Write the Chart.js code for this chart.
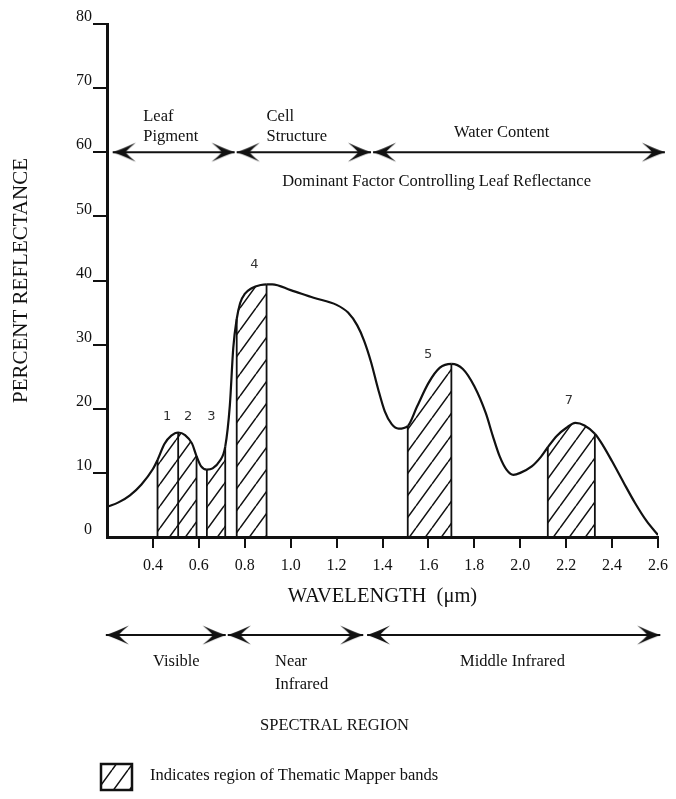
<!DOCTYPE html>
<html>
<head>
<meta charset="utf-8">
<script src="https://cdn.jsdelivr.net/npm/chart.js@4.4.0/dist/chart.umd.min.js"></script>
<style>
  html, body { margin: 0; padding: 0; background: #fff; }
</style>
</head>
<body>
<canvas id="reflectance" width="676" height="799"></canvas>
<script>
// reflectance curve of green vegetation
var wavelength = [0.20, 0.25, 0.30, 0.35, 0.40, 0.42, 0.45, 0.48, 0.51, 0.54, 0.57, 0.59, 0.61, 0.635, 0.66, 0.69, 0.715,
    0.735, 0.75, 0.765, 0.78, 0.80, 0.83, 0.87, 0.895, 0.92, 1.00, 1.10, 1.20, 1.25, 1.29, 1.32, 1.35, 1.38, 1.41, 1.44,
    1.47, 1.51, 1.55, 1.60, 1.65, 1.70, 1.75, 1.80, 1.85, 1.88, 1.91, 1.94, 1.97, 2.00, 2.05, 2.09, 2.12, 2.16, 2.20,
    2.24, 2.28, 2.325, 2.36, 2.40, 2.45, 2.50, 2.55, 2.60];
var reflectance = [4.7, 5.4, 6.5, 8.2, 10.6, 12.0, 14.5, 15.8, 16.3, 15.9, 14.6, 12.6, 11.0, 10.5, 10.7, 11.8, 14.1,
    20.5, 29.5, 34.0, 36.5, 37.9, 38.8, 39.3, 39.4, 39.4, 38.5, 37.3, 36.2, 35.0, 33.0, 30.6, 27.3, 23.2, 19.6, 17.6,
    16.9, 17.3, 20.3, 24.0, 26.4, 27.0, 26.2, 23.5, 19.3, 15.8, 12.6, 10.5, 9.7, 10.0, 11.0, 12.5, 14.0, 15.8, 17.0,
    17.8, 17.4, 16.1, 14.3, 11.8, 8.5, 5.3, 2.5, 0.3];

// Thematic Mapper bands, start and end wavelength
var tm_bands = [[0.42, 0.51], [0.51, 0.59], [0.635, 0.715], [0.765, 0.895], [1.51, 1.70], [2.12, 2.325]];
var tm_band_names = ['1', '2', '3', '4', '5', '7'];

// dominant factor and spectral region spans
var factor_spans = [[0.225, 0.756], [0.765, 1.35], [1.359, 2.63]];
var region_spans = [[0.195, 0.717], [0.726, 1.316], [1.333, 2.61]];

var x_ticks = [0.4, 0.6, 0.8, 1.0, 1.2, 1.4, 1.6, 1.8, 2.0, 2.2, 2.4, 2.6];
var y_ticks = [0, 10, 20, 30, 40, 50, 60, 70, 80];

var serif = "'Liberation Serif', 'Times New Roman', serif";
var ink = '#111';

Chart.defaults.font.family = serif;
Chart.defaults.color = ink;

var canvas = document.getElementById('reflectance');
var ctx = canvas.getContext('2d');

function make_hatch(){
    var w = 16, h = 22;
    var c = document.createElement('canvas');
    c.width = w; c.height = h;
    var g = c.getContext('2d');
    g.strokeStyle = '#111';
    g.lineWidth = 1.5;
    g.beginPath();
    for(var k = -1; k <= 1; k++){
        g.moveTo(k * w, h);
        g.lineTo(k * w + w, 0);
    }
    g.stroke();
    return ctx.createPattern(c, 'repeat');
}

function make_arrow_head(){
    // tip sits at the centre of the image so rotation keeps it on the point
    var c = document.createElement('canvas');
    c.width = 50; c.height = 22;
    var g = c.getContext('2d');
    g.translate(25, 11);
    g.fillStyle = ink;
    g.beginPath();
    g.moveTo(0, 0);
    g.quadraticCurveTo(-9, -3, -23, -9.5);
    g.quadraticCurveTo(-15, -3, -13, 0);
    g.quadraticCurveTo(-15, 3, -23, 9.5);
    g.quadraticCurveTo(-9, 3, 0, 0);
    g.fill();
    return c;
}

var hatch = make_hatch();
var arrow_head = make_arrow_head();

function in_band(x0, x1){
    return tm_bands.some(function(b){ return x0 >= b[0] - 1e-9 && x1 <= b[1] + 1e-9; });
}

function reflectance_at(w){
    for(var i = 0; i < wavelength.length; i++){
        if(Math.abs(wavelength[i] - w) < 1e-9) return reflectance[i];
    }
    return 0;
}

var curve = wavelength.map(function(w, i){ return {x: w, y: reflectance[i]}; });

var datasets = [{
    label: 'Reflectance',
    data: curve,
    borderColor: ink,
    borderWidth: 2.2,
    pointRadius: 0,
    tension: 0.4,
    cubicInterpolationMode: 'monotone',
    fill: 'origin',
    backgroundColor: 'rgba(0,0,0,0)',
    segment: {
        backgroundColor: function(c){
            return in_band(c.p0.parsed.x, c.p1.parsed.x) ? hatch : 'rgba(0,0,0,0)';
        }
    }
}];

// vertical edges of the band areas
var edges = [];
tm_bands.forEach(function(b){
    if(edges.indexOf(b[0]) < 0) edges.push(b[0]);
    if(edges.indexOf(b[1]) < 0) edges.push(b[1]);
});
edges.forEach(function(e){
    datasets.push({
        data: [{x: e, y: 0}, {x: e, y: reflectance_at(e)}],
        borderColor: ink,
        borderWidth: 1.8,
        pointRadius: 0,
        fill: false
    });
});

function arrow(span, y){
    return {
        data: [{x: span[0], y: y}, {x: span[1], y: y}],
        borderColor: ink,
        borderWidth: 2,
        fill: false,
        clip: false,
        pointStyle: arrow_head,
        pointRotation: [180, 0],
        pointRadius: 120,
        pointHoverRadius: 120,
        pointBorderWidth: 0
    };
}
factor_spans.forEach(function(s){ datasets.push(arrow(s, 60)); });
region_spans.forEach(function(s){ datasets.push(arrow(s, -15.3)); });

var notes = [
    ['Leaf', 0.358, 65.5, 'left'],
    ['Pigment', 0.358, 62.4, 'left'],
    ['Cell', 0.895, 65.5, 'left'],
    ['Structure', 0.895, 62.4, 'left'],
    ['Water Content', 1.919, 63.0, 'center'],
    ['Dominant Factor Controlling Leaf Reflectance', 0.963, 55.4, 'left'],
    ['Visible', 0.502, -19.5, 'center'],
    ['Near', 0.932, -19.5, 'left'],
    ['Infrared', 0.932, -23.1, 'left'],
    ['Middle Infrared', 1.966, -19.5, 'center'],
    ['SPECTRAL REGION', 1.191, -29.5, 'center']
];
var band_label_pos = [[0.4615, 18.7], [0.553, 18.7], [0.655, 18.7], [0.842, 42.4], [1.599, 28.4], [2.212, 21.2]];

var notes_plugin = {
    id: 'notes',
    afterDraw: function(chart){
        var c = chart.ctx, xs = chart.scales.x, ys = chart.scales.y;
        c.save();
        c.fillStyle = ink;
        c.textBaseline = 'middle';
        c.font = '16.5px ' + serif;
        notes.forEach(function(n){
            c.textAlign = n[3];
            c.fillText(n[0], xs.getPixelForValue(n[1]), ys.getPixelForValue(n[2]));
        });
        c.font = '13px "DejaVu Sans", sans-serif';
        c.fillStyle = '#333';
        c.textAlign = 'center';
        tm_band_names.forEach(function(name, i){
            c.fillText(name, xs.getPixelForValue(band_label_pos[i][0]), ys.getPixelForValue(band_label_pos[i][1]));
        });
        // key for the hatched bands
        c.fillStyle = hatch;
        c.fillRect(101, 764, 31, 26);
        c.strokeStyle = ink;
        c.lineWidth = 2.5;
        c.strokeRect(101, 764, 31, 26);
        c.fillStyle = ink;
        c.textAlign = 'left';
        c.font = '16.5px ' + serif;
        c.fillText('Indicates region of Thematic Mapper bands', 150, 776);
        c.restore();
    }
};

new Chart(canvas, {
    type: 'line',
    data: {datasets: datasets},
    plugins: [notes_plugin],
    options: {
        responsive: false,
        animation: false,
        events: [],
        layout: {autoPadding: false, padding: {left: 0, top: 24, right: 13, bottom: 187}},
        plugins: {
            legend: {display: false},
            tooltip: {enabled: false}
        },
        scales: {
            x: {
                type: 'linear',
                min: 0.2,
                max: 2.6,
                afterBuildTicks: function(s){ s.ticks = x_ticks.map(function(v){ return {value: v}; }); },
                afterFit: function(s){ s.height = 75; },
                ticks: {
                    padding: 8,
                    autoSkip: false,
                    maxRotation: 0,
                    font: {size: 16},
                    callback: function(v){ return Number(v).toFixed(1); }
                },
                grid: {drawOnChartArea: false, tickLength: 11, lineWidth: 2, color: ink},
                border: {display: true, width: 3, color: ink},
                title: {display: true, text: 'WAVELENGTH  (\u03bcm)', font: {size: 20.5}, padding: {bottom: 3}}
            },
            y: {
                min: 0,
                max: 80,
                afterBuildTicks: function(s){ s.ticks = y_ticks.map(function(v){ return {value: v}; }); },
                afterFit: function(s){ s.width = 107; },
                ticks: {padding: 1, labelOffset: -7, font: {size: 16}},
                grid: {
                    drawOnChartArea: false,
                    tickLength: 14,
                    lineWidth: 2,
                    color: function(c){ return c.tick && c.tick.value === 0 ? 'rgba(0,0,0,0)' : ink; }
                },
                border: {display: true, width: 3, color: ink},
                title: {display: true, text: 'PERCENT REFLECTANCE', font: {size: 21}, padding: {top: 9}}
            }
        }
    }
});
</script>
</body>
</html>
